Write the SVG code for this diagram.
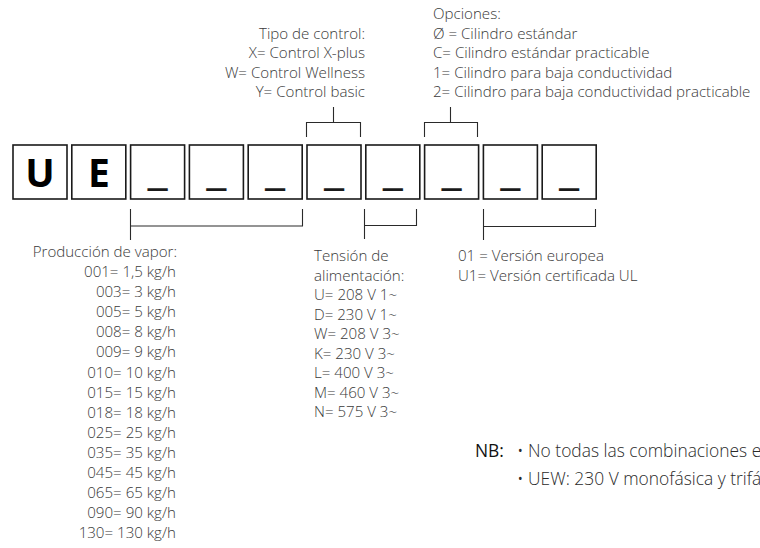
<svg xmlns="http://www.w3.org/2000/svg" width="760" height="548" viewBox="0 0 760 548">
<style>
.box{fill:#fff;stroke:#1a1a1a;stroke-width:1.6}
.big{font-family:"Open Sans","Liberation Sans",sans-serif;font-weight:700;font-size:39px;fill:#000;text-anchor:middle}
.us{font-family:"Open Sans","Liberation Sans",sans-serif;font-weight:400;font-size:46px;fill:#1a1a1a;text-anchor:middle}
.t{font-family:"Open Sans","Liberation Sans",sans-serif;font-weight:300;font-size:15.1px;fill:#3a3a3a}
.nb{font-family:"Open Sans","Liberation Sans",sans-serif;font-weight:300;font-size:17.4px;fill:#2a2a2a}
.e{text-anchor:end}
.br{fill:none;stroke:#2a2a2a;stroke-width:1.1}
</style>
<g id="boxes">
<g id="box-U"><rect class="box" x="13" y="145" width="54" height="54"/><text class="big" x="40" y="187">U</text></g>
<g id="box-E"><rect class="box" x="71.8" y="145" width="54" height="54"/><text class="big" x="98.8" y="187">E</text></g>
<g id="box-3"><rect class="box" x="130.6" y="145" width="54" height="54"/><text class="us" x="157.6" y="184">_</text></g>
<g id="box-4"><rect class="box" x="189.4" y="145" width="54" height="54"/><text class="us" x="216.4" y="184">_</text></g>
<g id="box-5"><rect class="box" x="248.2" y="145" width="54" height="54"/><text class="us" x="275.2" y="184">_</text></g>
<g id="box-6"><rect class="box" x="307" y="145" width="54" height="54"/><text class="us" x="334" y="184">_</text></g>
<g id="box-7"><rect class="box" x="365.8" y="145" width="54" height="54"/><text class="us" x="392.8" y="184">_</text></g>
<g id="box-8"><rect class="box" x="424.6" y="145" width="54" height="54"/><text class="us" x="451.6" y="184">_</text></g>
<g id="box-9"><rect class="box" x="483.4" y="145" width="54" height="54"/><text class="us" x="510.4" y="184">_</text></g>
<g id="box-10"><rect class="box" x="542.2" y="145" width="54" height="54"/><text class="us" x="569.2" y="184">_</text></g>
</g>
<g id="connectors">
<path class="br" d="M306.5 137V122.5H360.5V137M333.5 122.5V107"/>
<path class="br" d="M424.5 137V122.5H477.5V137M450.5 122.5V107"/>
<path class="br" d="M130.5 209V226H302.5V209M130.5 226V240"/>
<path class="br" d="M364.5 209V225.5H416.5V209M364.5 225.5V239"/>
<path class="br" d="M483.5 209V226.5H595.5V209M483.5 226.5V240"/>
</g>
<g id="control">
<text class="t e" x="365" y="38.5">Tipo de control:</text>
<text class="t e" x="365" y="58">X= Control X-plus</text>
<text class="t e" x="365" y="77.5">W= Control Wellness</text>
<text class="t e" x="365" y="97">Y= Control basic</text>
</g>
<g id="opciones">
<text class="t" x="433" y="19">Opciones:</text>
<text class="t" x="433" y="38.5">Ø = Cilindro estándar</text>
<text class="t" x="433" y="58">C= Cilindro estándar practicable</text>
<text class="t" x="433" y="77.5">1= Cilindro para baja conductividad</text>
<text class="t" x="433" y="97">2= Cilindro para baja conductividad practicable</text>
</g>
<g id="produccion">
<text class="t e" x="177" y="257">Producción de vapor:</text>
<text class="t e" x="176" y="277">001= 1,5 kg/h</text>
<text class="t e" x="176" y="297.1">003= 3 kg/h</text>
<text class="t e" x="176" y="317.2">005= 5 kg/h</text>
<text class="t e" x="176" y="337.3">008= 8 kg/h</text>
<text class="t e" x="176" y="357.4">009= 9 kg/h</text>
<text class="t e" x="176" y="377.5">010= 10 kg/h</text>
<text class="t e" x="176" y="397.6">015= 15 kg/h</text>
<text class="t e" x="176" y="417.7">018= 18 kg/h</text>
<text class="t e" x="176" y="437.8">025= 25 kg/h</text>
<text class="t e" x="176" y="457.9">035= 35 kg/h</text>
<text class="t e" x="176" y="478">045= 45 kg/h</text>
<text class="t e" x="176" y="498.1">065= 65 kg/h</text>
<text class="t e" x="176" y="518.2">090= 90 kg/h</text>
<text class="t e" x="176" y="538.3">130= 130 kg/h</text>
</g>
<g id="tension">
<text class="t" x="314" y="261">Tensión de</text>
<text class="t" x="314" y="280.5">alimentación:</text>
<text class="t" x="314" y="300">U= 208 V 1~</text>
<text class="t" x="314" y="319.5">D= 230 V 1~</text>
<text class="t" x="314" y="339">W= 208 V 3~</text>
<text class="t" x="314" y="358.5">K= 230 V 3~</text>
<text class="t" x="314" y="378">L= 400 V 3~</text>
<text class="t" x="314" y="397.5">M= 460 V 3~</text>
<text class="t" x="314" y="417">N= 575 V 3~</text>
</g>
<g id="version">
<text class="t" x="458" y="261">01 = Versión europea</text>
<text class="t" x="458" y="280.5">U1= Versión certificada UL</text>
</g>
<g id="nb">
<text class="nb" x="475" y="457" style="font-weight:400;fill:#111">NB:</text>
<text class="nb" x="517" y="457">• No todas las combinaciones están disponibles</text>
<text class="nb" x="517" y="485">• UEW: 230 V monofásica y trifásica</text>
</g>
</svg>
